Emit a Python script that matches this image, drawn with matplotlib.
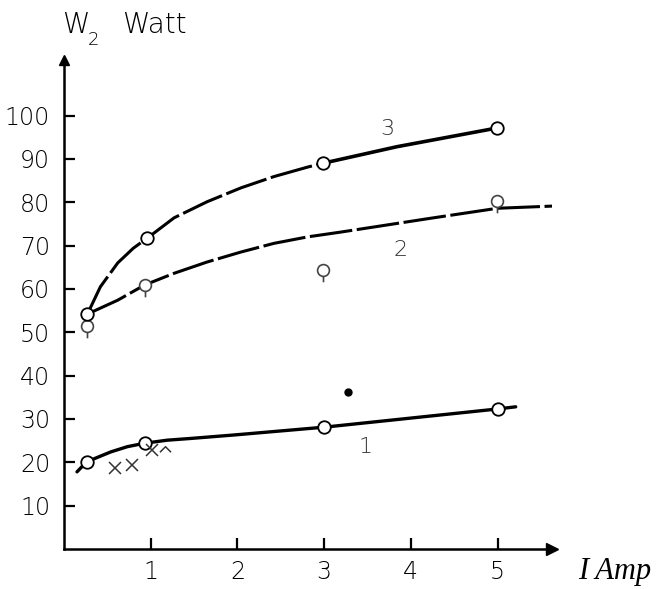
import matplotlib
matplotlib.use("Agg")
import matplotlib.pyplot as plt
from matplotlib.path import Path

# ---- data ----
xticks = [1, 2, 3, 4, 5]
yticks = [10, 20, 30, 40, 50, 60, 70, 80, 90, 100]

# curve 1 (drawn line)
c1_x = [0.15, 0.26, 0.54, 0.73, 0.93, 1.19, 1.46, 1.96, 3.0, 5.0, 5.21]
c1_y = [17.8, 20.1, 22.4, 23.6, 24.4, 25.1, 25.5, 26.3, 28.1, 32.3, 32.8]
c1_pts_x = [0.26, 0.93, 3.0, 5.0]
c1_pts_y = [20.1, 24.4, 28.1, 32.3]
cross_x = [0.59, 0.79, 1.02]
cross_y = [18.6, 19.4, 22.8]
caret_x = [1.17]
caret_y = [23.0]
dot_x = [3.28]
dot_y = [36.3]

# curve 2
c2_x = [0.27, 0.62, 0.93, 1.27, 1.65, 2.04, 2.42, 2.81, 3.19, 4.23, 5.0, 5.63]
c2_y = [54.2, 57.4, 60.9, 63.6, 66.2, 68.5, 70.5, 72.0, 73.1, 76.3, 78.6, 79.1]
c2_pts_x = [0.26, 0.93, 2.99, 4.99]
c2_pts_y = [51.5, 61.0, 64.4, 80.3]

# curve 3
c3a_x = [0.27, 0.42, 0.62, 0.80, 0.96, 1.27, 1.65, 2.04, 2.42, 2.81, 2.99]
c3a_y = [54.2, 60.5, 66.0, 69.4, 71.7, 76.4, 80.1, 83.3, 85.9, 88.1, 89.0]
c3b_x = [2.99, 3.84, 4.99]
c3b_y = [89.0, 92.8, 97.1]
c3_pts_x = [0.27, 0.96, 2.99, 4.99]
c3_pts_y = [54.2, 71.7, 89.0, 97.1]

labels = ["1", "2", "3"]
label_x = [3.48, 3.88, 3.73]
label_y = [23.5, 69.0, 97.0]

# ---- figure ----
W, H = 660, 589
fig = plt.figure(figsize=(W / 100, H / 100), dpi=100)
x0, y0 = 64, 549
x1, ytop = 552, 60
ax = fig.add_axes([x0 / W, (H - y0) / H, (x1 - x0) / W, (y0 - ytop) / H])
ax.set_xlim(0, (x1 - x0) / 86.7)
ax.set_ylim(0, (y0 - ytop) / 4.335)

for s in ["top", "right"]:
    ax.spines[s].set_visible(False)
for s in ["left", "bottom"]:
    ax.spines[s].set_linewidth(1.8)

ax.plot(1, 0, ">k", ms=9, transform=ax.get_yaxis_transform(), clip_on=False)
ax.plot(0, 1, "^k", ms=7, transform=ax.get_xaxis_transform(), clip_on=False)

ax.set_xticks(xticks)
ax.set_yticks(yticks)
ax.set_xticklabels([str(t) for t in xticks])
ax.set_yticklabels([str(t) for t in yticks])
ax.tick_params(axis="both", direction="in", length=8, width=1.6,
               labelsize=17, colors="black")
ax.tick_params(axis="y", pad=10)
ax.tick_params(axis="x", pad=8)
for lab in ax.get_xticklabels() + ax.get_yticklabels():
    lab.set_fontfamily("DejaVu Sans")
    lab.set_fontweight("light")

# lollipop marker: open circle with stem below
lolli = Path.make_compound_path(
    Path.circle((0, 0), 0.5),
    Path([(0, -0.5), (0, -1.0)], [Path.MOVETO, Path.LINETO]),
)

# curve 1
ax.plot(c1_x, c1_y, color="black", lw=2.4, solid_capstyle="round", zorder=2)
ax.plot(c1_pts_x, c1_pts_y, "o", ms=9, mfc="white", mec="black", mew=1.3, zorder=3)
ax.plot(cross_x, cross_y, "x", ms=8, color="#333333", mew=1.1, zorder=3)
ax.plot(caret_x, caret_y, marker=[(-1, -0.5), (0, 0.5), (1, -0.5)], fillstyle="none",
        ms=8, mfc="none", mec="#333333", mew=1.1, ls="none", zorder=3)
ax.plot(dot_x, dot_y, "o", ms=5, color="black", zorder=3)

# curve 2
ax.plot(c2_x, c2_y, color="black", lw=2.2, dashes=(14, 1.5), zorder=2)
ax.plot(c2_pts_x, c2_pts_y, marker=lolli, ls="none", ms=17, mfc="white",
        mec="#444444", mew=1.2, zorder=3)

# curve 3
ax.plot(c3a_x, c3a_y, color="black", lw=2.2, dashes=(14, 1.5), zorder=2)
ax.plot(c3b_x, c3b_y, color="black", lw=2.6, zorder=2)
ax.plot(c3_pts_x, c3_pts_y, "o", ms=9, mfc="white", mec="black", mew=1.3, zorder=3)

for t, lx, ly in zip(labels, label_x, label_y):
    ax.text(lx, ly, t, fontsize=16, fontweight="light", color="#333333",
            ha="center", va="center", family="DejaVu Sans")

fig.text(62 / W, 1 - 25 / H, "W", fontsize=20, fontweight="light",
         family="DejaVu Sans", ha="left", va="center")
fig.text(88 / W, 1 - 40 / H, "2", fontsize=13, fontweight="light",
         family="DejaVu Sans", ha="left", va="center")
fig.text(122 / W, 1 - 25 / H, "Watt", fontsize=20, fontweight="light",
         family="DejaVu Sans", ha="left", va="center")
fig.text(578 / W, 1 - 572 / H, "I Amp", fontsize=22, style="italic",
         family="Liberation Serif", ha="left", va="center")

fig.savefig("out.png", dpi=100, facecolor="white")
